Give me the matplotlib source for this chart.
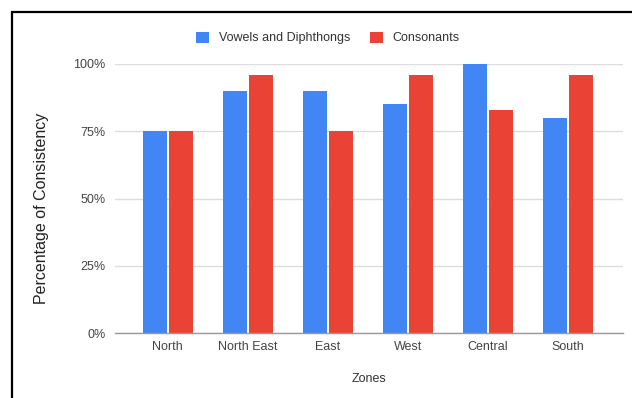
import matplotlib
matplotlib.use("Agg")
import matplotlib.pyplot as plt
from matplotlib.patches import Rectangle
from matplotlib.ticker import FuncFormatter
import numpy as np

plt.rcParams['font.family'] = ['Liberation Sans', 'DejaVu Sans']

zones = ["North", "North East", "East", "West", "Central", "South"]
vowels = [75, 90, 90, 85, 100, 80]
consonants = [75, 96, 75, 96, 83, 96]
series_names = ["Vowels and Diphthongs", "Consonants"]
y_ticks = [0, 25, 50, 75, 100]

BLUE = "#4285F4"
RED = "#EA4335"

fig = plt.figure(figsize=(6.32, 3.98), dpi=100)
ax = fig.add_axes([115 / 632, 65 / 398, 508 / 632, 269 / 398])

x = np.arange(len(zones))
w = 0.305
off = 0.1625
b1 = ax.bar(x - off, vowels, width=w, color=BLUE, label=series_names[0], zorder=3)
b2 = ax.bar(x + off, consonants, width=w, color=RED, label=series_names[1], zorder=3)

ax.set_xlim(-0.66, len(zones) - 1 + 0.69)
ax.set_ylim(0, 100)
ax.set_yticks(y_ticks)
ax.yaxis.set_major_formatter(FuncFormatter(lambda v, p: f"{int(v)}%"))
ax.set_xticks(x)
ax.set_xticklabels(zones)

ax.grid(axis="y", color="#dddddd", linewidth=1.0, zorder=0)
ax.set_axisbelow(True)
for s in ["top", "right", "left"]:
    ax.spines[s].set_visible(False)
ax.spines["bottom"].set_color("#999999")
ax.spines["bottom"].set_linewidth(1.0)
ax.spines["bottom"].set_zorder(4)

ax.tick_params(axis="both", length=0, colors="#444444", labelsize=9)
ax.tick_params(axis="y", pad=7)
ax.tick_params(axis="x", pad=6)

ax.set_xlabel("Zones", fontsize=9, color="#333333", labelpad=14)
fig.text(42 / 632, (398 - 208) / 398, "Percentage of Consistency", rotation=90,
         ha="center", va="center", fontsize=11.5, color="#222222")

fig.legend(handles=[b1, b2], labels=series_names, loc="center",
           bbox_to_anchor=(328 / 632, (398 - 38) / 398), ncol=2, frameon=False,
           fontsize=9, handlelength=1.0, handleheight=1.0, handletextpad=0.8,
           columnspacing=1.6, labelcolor="#333333")

# outer frame around the chart
frame = Rectangle((12 / 632, -0.1), 1.2, (398 - 12) / 398 + 0.1, transform=fig.transFigure,
                  fill=False, edgecolor="black", linewidth=1.6, clip_on=False)
fig.patches.append(frame)

fig.savefig("out.png", dpi=100)
